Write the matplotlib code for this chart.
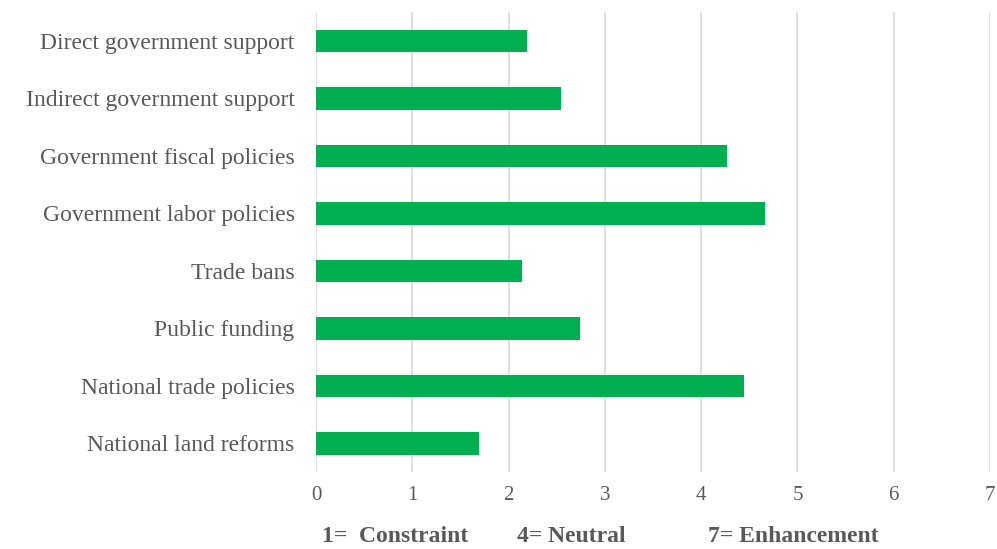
import matplotlib
matplotlib.use("Agg")
import matplotlib.pyplot as plt
import numpy as np

# ---------------- data ----------------
categorias = [
    "Direct government support",
    "Indirect government support",
    "Government fiscal policies",
    "Government labor policies",
    "Trade bans",
    "Public funding",
    "National trade policies",
    "National land reforms",
]
valores = [2.19, 2.54, 4.27, 4.66, 2.14, 2.74, 4.44, 1.69]
ticks_x = [0, 1, 2, 3, 4, 5, 6, 7]

# ---------------- figure ----------------
plt.rcParams["font.family"] = ["Liberation Serif", "DejaVu Serif"]
gris = "#595959"

fig = plt.figure(figsize=(9.97, 5.49), dpi=100)
ax = fig.add_axes([0.317, 0.140, 0.676, 0.838])

y = np.arange(len(categorias))
ax.barh(y, valores, height=0.39, color="#00B050", zorder=3)

ax.set_ylim(len(categorias) - 0.5, -0.5)
ax.set_xlim(0, 7)
ax.set_yticks(y)
ax.set_yticklabels(categorias, fontsize=17, color=gris)
ax.set_xticks(ticks_x)
ax.set_xticklabels([str(t) for t in ticks_x], fontsize=15, color=gris)

ax.tick_params(axis="both", length=0)
ax.tick_params(axis="y", pad=15.5)
ax.tick_params(axis="x", pad=10)

ax.grid(axis="x", color="#d9d9d9", linewidth=1.2, zorder=0)
for s in ax.spines.values():
    s.set_visible(False)

# leyenda de escala abajo
fila = 1 - 537 / 549
fig.text(322 / 997, fila, "1=  Constraint", fontsize=17, fontweight="bold",
         color=gris, va="center")
fig.text(517 / 997, fila, "4= Neutral", fontsize=17, fontweight="bold",
         color=gris, va="center")
fig.text(708 / 997, fila, "7= Enhancement", fontsize=17, fontweight="bold",
         color=gris, va="center")

fig.savefig("out.png", dpi=100, facecolor="white")
